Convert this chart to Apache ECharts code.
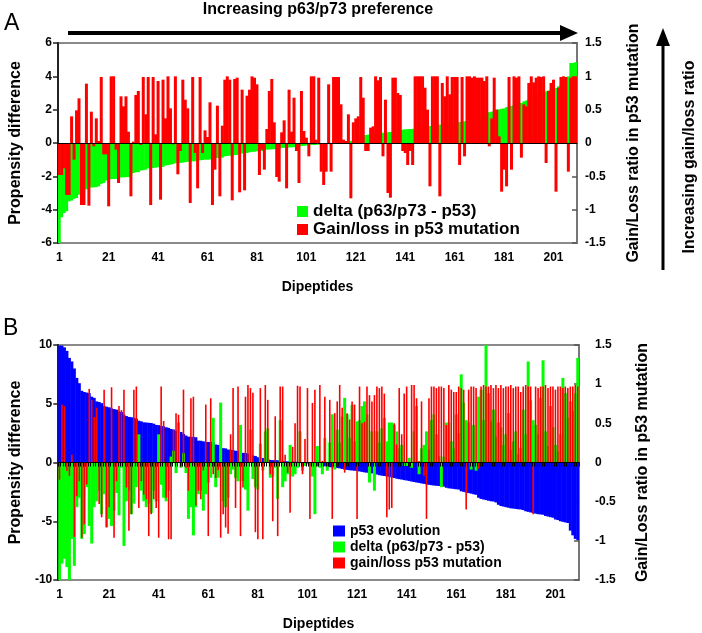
<!DOCTYPE html>
<html>
<head>
<meta charset="utf-8">
<script src="https://cdn.jsdelivr.net/npm/echarts@6/dist/echarts.min.js"></script>
<style>
html,body{margin:0;padding:0;background:#fff;}
#chart{width:702px;height:633px;}
</style>
</head>
<body>
<div id="chart"></div>
<script>
// ---------- DATA ----------
const categories = Array.from({length: 210}, (_, i) => String(i + 1));

// Panel A: delta (p63/p73 - p53), left axis
const deltaA = [
-6.05,-4.45,-4.2,-4.1,-3.5,-3.45,-3.35,-3.3,-3.1,-2.8,
-2.8,-2.78,-2.68,-2.67,-2.66,-2.65,-2.6,-2.45,-2.4,-2.25,
-2.2,-2.17,-2.16,-2.15,-2.08,-2.07,-2.06,-2.05,-2.04,-1.95,
-1.8,-1.75,-1.75,-1.65,-1.63,-1.6,-1.52,-1.5,-1.5,-1.48,
-1.45,-1.44,-1.43,-1.35,-1.32,-1.3,-1.27,-1.22,-1.2,-1.2,
-1.18,-1.15,-1.13,-1.12,-1.1,-1.1,-1.05,-1.04,-1.02,-1.0,
-1.0,-0.99,-0.98,-0.92,-0.9,-0.89,-0.88,-0.8,-0.78,-0.76,
-0.75,-0.73,-0.72,-0.65,-0.63,-0.62,-0.6,-0.55,-0.53,-0.52,
-0.5,-0.49,-0.48,-0.42,-0.4,-0.39,-0.38,-0.37,-0.36,-0.35,
-0.3,-0.29,-0.28,-0.27,-0.26,-0.25,-0.25,-0.2,-0.18,-0.17,
-0.15,-0.14,-0.12,-0.12,-0.1,-0.1,-0.09,-0.08,-0.08,-0.07,
-0.06,-0.06,-0.05,-0.04,-0.03,0.0,0.02,0.05,0.12,0.15,
0.2,0.3,0.45,0.47,0.48,0.5,0.52,0.55,0.56,0.58,
0.6,0.62,0.64,0.65,0.66,0.67,0.7,0.75,0.78,0.8,
0.82,0.83,0.84,0.85,0.86,0.88,0.9,0.95,0.98,1.0,
1.02,1.04,1.06,1.08,1.1,1.12,1.14,1.15,1.18,1.2,
1.22,1.24,1.26,1.28,1.3,1.33,1.36,1.4,1.44,1.46,
1.5,1.6,1.7,1.8,1.85,1.88,1.95,2.0,2.02,2.05,
2.08,2.15,2.2,2.22,2.28,2.3,2.35,2.4,2.5,2.55,
2.6,2.7,2.8,2.88,2.9,3.0,3.05,3.1,3.15,3.2,
3.25,3.3,3.4,3.5,3.9,3.95,4.0,4.8,4.8,4.85
];

// Panel A: gain/loss in p53 mutation, right axis
const gainLossA = [
-0.48,-0.48,-0.38,-0.78,-0.78,0.40,-0.25,0.49,0.67,-0.93,
-0.93,0.89,-0.94,0.47,-0.05,0.37,0.03,0.99,-0.17,-0.17,
-0.95,1.0,1.0,-0.1,-0.6,0.7,0.55,0.7,0.17,-0.8,
0.02,0.72,0.78,-0.03,0.99,0.43,0.99,-0.93,0.99,0.13,
0.93,-0.85,0.95,0.37,1.0,0.52,-0.02,1.0,-0.47,-0.12,
0.95,0.65,0.52,-0.9,0.99,-0.15,-0.68,0.99,-0.15,0.19,
0.09,0.61,-0.93,-0.4,0.56,-0.8,0.26,0.95,1.0,0.95,
-0.86,0.96,0.98,-0.74,0.8,-0.71,0.71,0.8,1.0,0.98,
0.88,-0.48,-0.1,-0.4,0.21,0.78,0.96,0.31,-0.51,-0.58,
0.16,0.34,-0.68,0.8,0.17,0.68,-0.12,-0.6,0.78,0.18,
0.08,-0.2,1.0,1.0,0.05,0.98,-0.43,-0.63,-0.43,0.88,
-0.43,0.99,0.99,0.99,0.58,0.05,0.03,0.43,-0.83,0.31,
0.37,0.4,0.99,0.68,-0.12,-0.12,0.23,0.25,1.0,0.94,
0.99,-0.2,0.65,-0.75,-0.82,0.98,0.98,0.75,0.72,-0.12,
-0.15,-0.33,-0.12,-0.33,1.0,1.0,1.0,1.0,0.83,0.5,
-0.65,1.0,1.0,1.0,-0.8,0.9,0.7,1.0,0.73,0.99,
0.99,0.99,-0.33,0.99,-0.2,1.0,1.0,0.98,1.0,0.98,
0.98,0.98,0.93,1.0,-0.05,0.37,0.98,0.5,0.1,-0.73,
-0.4,-0.65,0.99,-0.4,1.0,0.98,1.0,-0.22,0.58,0.55,
0.9,1.0,0.91,0.98,1.0,0.99,1.0,-0.3,0.78,0.9,
0.95,-0.73,0.83,0.99,1.0,0.99,-0.43,0.98,1.0,1.0
];

// Panel B: p53 evolution, left axis
const evolutionB = [
9.95,9.95,9.8,9.5,8.9,8.6,8.0,7.2,6.75,6.1,
6.0,5.95,5.9,5.6,5.5,5.2,5.15,5.05,4.8,4.75,
4.7,4.6,4.55,4.5,4.35,4.3,4.07,3.95,3.88,3.85,
3.8,3.73,3.56,3.5,3.42,3.4,3.38,3.36,3.3,3.2,
3.18,3.1,3.08,3.0,2.95,2.85,2.8,2.7,2.65,2.6,
2.43,2.3,2.2,2.18,2.18,2.15,1.86,1.85,1.8,1.75,
1.75,1.74,1.72,1.53,1.5,1.24,1.22,1.2,1.1,1.08,
1.05,1.0,0.98,0.95,0.82,0.8,0.75,0.62,0.6,0.55,
0.45,0.43,0.38,0.34,0.3,0.22,0.2,0.2,0.19,0.18,
0.12,0.11,0.1,0.1,0.08,0.07,0.06,0.05,0.04,0.03,
0.02,-0.1,-0.2,-0.22,-0.25,-0.28,-0.3,-0.32,-0.38,-0.4,
-0.42,-0.45,-0.47,-0.5,-0.55,-0.6,-0.63,-0.66,-0.68,-0.7,
-0.72,-0.76,-0.8,-0.84,-0.87,-0.9,-0.93,-0.97,-1.02,-1.08,
-1.12,-1.15,-1.18,-1.22,-1.27,-1.32,-1.38,-1.42,-1.45,-1.5,
-1.53,-1.57,-1.62,-1.66,-1.7,-1.74,-1.78,-1.82,-1.86,-1.9,
-1.93,-1.96,-1.98,-2.0,-2.02,-2.05,-2.15,-2.2,-2.22,-2.25,
-2.28,-2.3,-2.45,-2.5,-2.55,-2.6,-2.65,-2.7,-2.75,-3.0,
-3.1,-3.15,-3.2,-3.25,-3.3,-3.32,-3.4,-3.6,-3.7,-3.75,
-3.8,-3.85,-3.9,-3.92,-3.95,-3.98,-4.0,-4.05,-4.15,-4.2,
-4.25,-4.3,-4.35,-4.4,-4.42,-4.45,-4.55,-4.6,-4.65,-4.7,
-4.85,-4.9,-5.0,-5.05,-5.1,-5.15,-5.8,-6.2,-6.5,-6.6
];

// Panel B: delta (p63/p73 - p53), left axis
const deltaB = [
-10,-8.6,-8.2,-8.9,-10,-6.5,-8.8,-3.8,-3.0,-6.5,
-6.1,-2.1,-5.4,-6.9,-3.8,-3.3,-2.4,-4.4,-2.7,-5.5,
-4.8,-5.4,-4.1,-2.6,-4.5,-0.45,-7.1,-3.3,-2.4,-4.4,
-3.5,-2.1,2.4,-2.4,-3.3,-3.8,-3.5,-4.3,-2.4,-3.3,
2.4,-1.9,-3.0,-3.3,-2.4,0.5,1.0,-0.9,3.4,-0.45,
0.8,-0.9,-4.8,-3.8,-6.2,-3.8,-2.7,-2.4,-4.1,-2.7,
-1.7,-1.3,3.8,-2.1,-1.3,5.1,-3.3,-3.8,-3.0,-1.0,
-0.6,-1.3,-1.6,3.2,-1.6,-2.3,-4.1,2.8,-1.4,-2.1,
-2.3,1.6,-0.7,2.65,2.9,-1.3,-1.2,-0.45,-3.1,3.6,
-2.1,-1.6,-1.0,1.5,-1.2,-1.0,-0.45,2.65,-0.7,-0.3,
-0.15,-0.3,-1.2,-4.4,1.4,-0.45,-1.0,2.1,-0.7,1.7,
4.1,-0.6,2.8,1.7,3.9,5.5,4.1,2.1,4.9,1.8,
3.5,3.6,4.8,5.2,4.1,-1.7,2.65,-2.4,2.65,1.7,
2.9,3.8,1.8,3.4,3.4,3.2,2.65,1.2,1.5,-0.3,
-0.3,0.4,-0.45,2.65,4.8,-1.0,1.2,1.5,2.65,1.1,
3.6,4.1,2.4,0.55,-2.1,0.5,3.4,3.4,1.8,1.2,
4.1,2.5,7.5,5.1,3.6,3.4,-0.6,3.2,-0.7,5.6,
6.2,3.6,10,5.9,3.5,4.5,2.2,3.4,3.0,1.5,
2.4,4.2,1.1,1.8,2.65,0.7,1.25,4.5,2.4,8.6,
5.3,3.6,3.2,2.4,5.5,8.7,2.65,1.4,4.8,3.0,
1.5,0.95,2.4,7.2,5.9,3.8,5.2,4.4,5.9,8.9
];

// Panel B: gain/loss p53 mutation, right axis
const gainLossB = [
-0.22,0.74,0.72,-0.11,-0.17,0.1,-0.95,-0.43,-0.24,-0.96,
-0.79,-0.28,0.94,0.8,0.58,0.7,-0.53,-0.7,0.93,-0.83,
-0.57,0.96,-0.96,-0.24,0.72,0.67,0.93,-0.32,-0.87,-0.66,
0.93,0.97,-0.58,-0.24,-0.41,-0.47,-0.94,-0.66,-0.47,-0.58,
-0.96,0.97,0.53,-0.45,-0.98,-0.98,0.42,0.63,0.61,-0.05,
0.93,-0.07,-0.36,0.82,0.84,-0.55,-0.36,-0.47,-0.1,0.74,
-0.94,0.82,-0.15,-0.2,-0.1,-0.96,-0.66,-0.83,-0.91,0.36,
0.95,-0.58,0.97,-0.94,-0.32,0.84,0.99,0.95,0.89,-0.89,
-0.98,0.95,-0.98,0.99,0.8,-0.15,-0.75,0.59,-0.94,0.97,
0.97,0.1,-0.13,-0.64,0.2,0.5,0.98,0.97,-0.15,0.3,
0.95,-0.72,0.76,0.93,-0.05,0.99,0.02,0.84,-0.05,0.8,
-0.72,0.63,0.78,0.99,0.7,-0.13,0.63,0.55,0.78,0.74,
-0.72,0.97,0.5,0.52,0.97,0.86,0.78,0.86,0.97,0.95,
0.97,0.88,-0.7,-0.6,-0.58,0.5,0.23,0.95,0.36,0.88,
0.97,-0.01,0.99,0.99,0.82,0.02,0.78,-0.17,-0.72,0.82,
0.97,0.97,0.95,0.97,0.97,0.95,0.48,0.99,0.93,0.9,
0.9,0.97,0.95,0.93,-0.6,0.93,0.97,0.97,0.95,-0.08,
0.97,0.99,0.97,0.97,0.99,0.95,0.99,0.95,0.99,0.95,
0.97,0.97,0.99,0.95,0.97,0.97,0.9,0.97,0.99,0.97,
0.97,-0.66,0.97,0.95,0.97,0.97,0.99,0.95,0.97,0.97,
0.93,0.97,0.97,0.95,0.97,0.95,0.97,0.97,0.99,0.97
];

// Axis ranges / tick steps
const leftAxisA = {min: -6, max: 6, interval: 2};
const rightAxisA = {min: -1.5, max: 1.5, interval: 0.5};
const leftAxisB = {min: -10, max: 10, interval: 5};
const rightAxisB = {min: -1.5, max: 1.5, interval: 0.5};

// ---------- CHART ----------
const FONT = '"Liberation Sans", Arial, Helvetica, sans-serif';
const tickLabel = {color: '#000', fontFamily: FONT, fontWeight: 'bold', fontSize: 12};
const nameStyle = {color: '#000', fontFamily: FONT, fontWeight: 'bold', fontSize: 14};
const yNameStyle = {color: '#000', fontFamily: FONT, fontWeight: 'bold', fontSize: 16};

function leftY(grid, r) {
  return {
    type: 'value', gridIndex: grid, position: 'left', min: r.min, max: r.max, interval: r.interval,
    axisLine: {show: true, lineStyle: {color: '#222', width: 2}},
    axisTick: {show: true, inside: false, length: 5, lineStyle: {color: '#222', width: 1.5}},
    axisLabel: Object.assign({margin: 6}, tickLabel),
    splitLine: {show: false},
    name: 'Propensity difference', nameLocation: 'middle', nameRotate: 90, nameGap: 34,
    nameTextStyle: yNameStyle
  };
}
function rightY(grid, r, margin, gap) {
  return {
    type: 'value', gridIndex: grid, position: 'right', min: r.min, max: r.max, interval: r.interval,
    axisLine: {show: true, lineStyle: {color: '#777', width: 2}},
    axisTick: {show: true, inside: true, length: 5, lineStyle: {color: '#555', width: 1.5}},
    axisLabel: Object.assign({margin: margin}, tickLabel),
    splitLine: {show: false},
    name: 'Gain/Loss ratio in p53 mutation', nameLocation: 'middle', nameRotate: 90, nameGap: gap,
    nameTextStyle: yNameStyle
  };
}
function labelX(grid) {
  return {
    type: 'category', gridIndex: grid, data: categories, position: 'bottom',
    axisLine: {show: false, onZero: false}, axisTick: {show: false},
    axisLabel: Object.assign({interval: 19, margin: 9}, tickLabel),
    name: 'Dipeptides', nameLocation: 'middle', nameGap: 37, nameTextStyle: nameStyle,
    z: 5
  };
}
function zeroX(grid, ticks) {
  return {
    type: 'category', gridIndex: grid, data: categories, position: 'bottom', z: 10,
    axisLine: {show: true, onZero: true, lineStyle: {color: '#000', width: 1}},
    axisTick: {show: ticks, interval: 0, length: 4, lineStyle: {color: '#000', width: 1}},
    axisLabel: {show: false}, splitLine: {show: false}
  };
}

const chart = echarts.init(document.getElementById('chart'), null, {renderer: 'canvas'});
chart.setOption({
  backgroundColor: '#fff',
  animation: false,
  grid: [
    {left: 57, top: 43, width: 520, height: 200, show: true, borderColor: '#8a8a8a', borderWidth: 2, backgroundColor: 'transparent'},
    {left: 57, top: 345, width: 522, height: 235, show: true, borderColor: '#8a8a8a', borderWidth: 2, backgroundColor: 'transparent'}
  ],
  xAxis: [
    labelX(0),
    zeroX(0, false),
    labelX(1),
    zeroX(1, true),
    {type: 'category', gridIndex: 1, data: categories, position: 'top', show: false}
  ],
  yAxis: [
    leftY(0, leftAxisA),
    rightY(0, rightAxisA, 8, 49),
    leftY(1, leftAxisB),
    rightY(1, rightAxisB, 16, 56)
  ],
  legend: [
    {
      data: ['delta (p63/p73 - p53)', 'Gain/loss in p53 mutation'],
      left: 297, top: 203, padding: 0, orient: 'vertical', icon: 'rect', itemWidth: 11, itemHeight: 11,
      itemGap: 1, selectedMode: false,
      textStyle: {color: '#000', fontFamily: FONT, fontWeight: 'bold', fontSize: 17}
    },
    {
      data: ['p53 evolution', 'delta (p63/p73 - p53)', 'gain/loss p53 mutation'],
      left: 333, top: 524, padding: 0, orient: 'vertical', icon: 'rect', itemWidth: 12, itemHeight: 11,
      itemGap: 2, selectedMode: false,
      textStyle: {color: '#000', fontFamily: FONT, fontWeight: 'bold', fontSize: 14}
    }
  ],
  series: [
    {name: 'delta (p63/p73 - p53)', type: 'bar', xAxisIndex: 0, yAxisIndex: 0, data: deltaA,
     barGap: '-100%', barWidth: 3, itemStyle: {color: '#00ff00'}, z: 2},
    {name: 'Gain/loss in p53 mutation', type: 'bar', xAxisIndex: 0, yAxisIndex: 1, data: gainLossA,
     barGap: '-100%', barWidth: 3, itemStyle: {color: '#ff0000'}, z: 3},
    {name: 'p53 evolution', type: 'bar', xAxisIndex: 2, yAxisIndex: 2, data: evolutionB,
     barGap: '-100%', barWidth: 3, itemStyle: {color: '#0000ff'}, z: 2},
    {name: 'delta (p63/p73 - p53)', type: 'bar', xAxisIndex: 2, yAxisIndex: 2, data: deltaB,
     barGap: '-100%', barWidth: 3, itemStyle: {color: '#00ff00'}, z: 3},
    {name: 'gain/loss p53 mutation', type: 'bar', xAxisIndex: 4, yAxisIndex: 3, data: gainLossB,
     barWidth: 1.6, itemStyle: {color: '#ff0000'}, z: 4}
  ],
  graphic: [
    {type: 'text', left: 4, top: 12, style: {text: 'A', font: '23px ' + FONT, fill: '#000'}},
    {type: 'text', left: 3, top: 317, style: {text: 'B', font: '23px ' + FONT, fill: '#000'}},
    {type: 'text', x: 318, y: 10, style: {text: 'Increasing p63/p73 preference', font: 'bold 16px ' + FONT, fill: '#000',
      align: 'center', textAlign: 'center', verticalAlign: 'middle', textVerticalAlign: 'middle'}},
    {type: 'line', shape: {x1: 68, y1: 33, x2: 562, y2: 33}, style: {stroke: '#000', lineWidth: 4}},
    {type: 'polygon', shape: {points: [[560, 25], [578, 33], [560, 41]]}, style: {fill: '#000'}},
    {type: 'line', shape: {x1: 663, y1: 270, x2: 663, y2: 44}, style: {stroke: '#000', lineWidth: 3}},
    {type: 'polygon', shape: {points: [[656, 46], [663, 28], [670, 46]]}, style: {fill: '#000'}},
    {type: 'text', x: 690, y: 157, rotation: Math.PI / 2, style: {text: 'Increasing gain/loss ratio', font: 'bold 16px ' + FONT, fill: '#000',
      align: 'center', textAlign: 'center', verticalAlign: 'middle', textVerticalAlign: 'middle'}}
  ]
});
</script>
</body>
</html>
